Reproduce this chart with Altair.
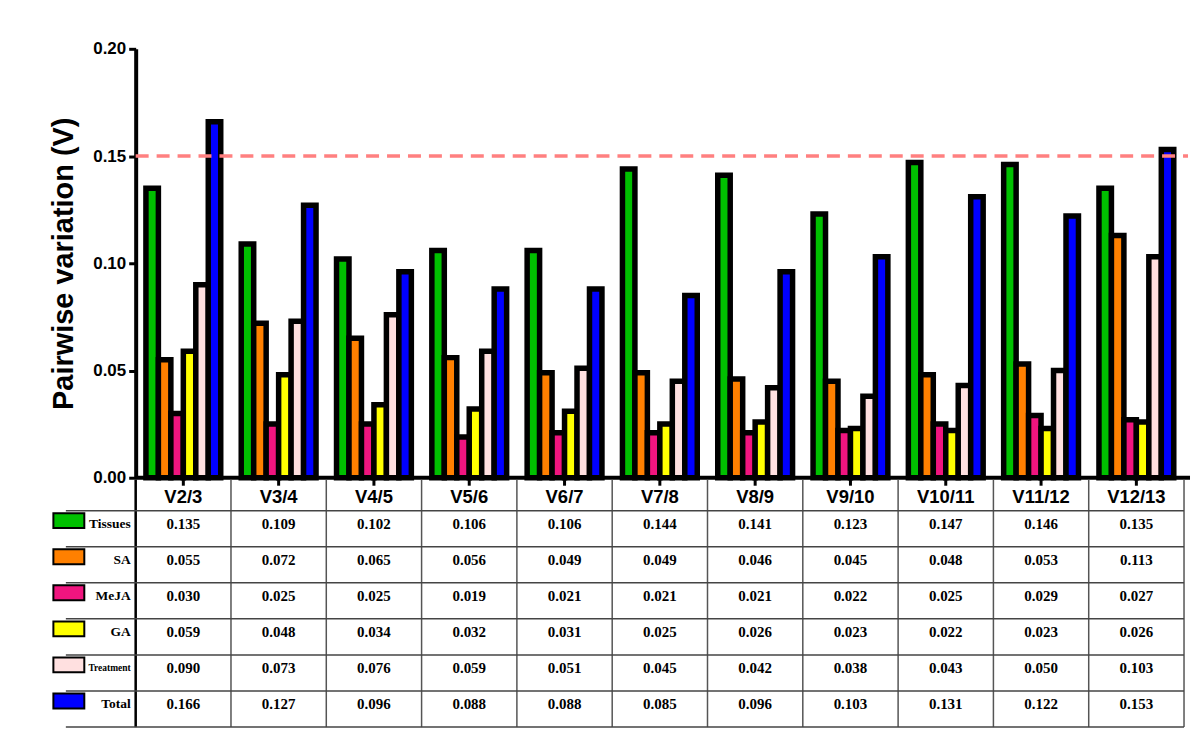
import altair as alt
import pandas as pd

categories = ["V2/3", "V3/4", "V4/5", "V5/6", "V6/7", "V7/8", "V8/9", "V9/10", "V10/11", "V11/12", "V12/13"]
series_names = ["Tissues", "SA", "MeJA", "GA", "Treatment", "Total"]
tissues = [0.135, 0.109, 0.102, 0.106, 0.106, 0.144, 0.141, 0.123, 0.147, 0.146, 0.135]
sa = [0.055, 0.072, 0.065, 0.056, 0.049, 0.049, 0.046, 0.045, 0.048, 0.053, 0.113]
meja = [0.030, 0.025, 0.025, 0.019, 0.021, 0.021, 0.021, 0.022, 0.025, 0.029, 0.027]
ga = [0.059, 0.048, 0.034, 0.032, 0.031, 0.025, 0.026, 0.023, 0.022, 0.023, 0.026]
treatment = [0.090, 0.073, 0.076, 0.059, 0.051, 0.045, 0.042, 0.038, 0.043, 0.050, 0.103]
total = [0.166, 0.127, 0.096, 0.088, 0.088, 0.085, 0.096, 0.103, 0.131, 0.122, 0.153]
series_colors = ["#00c000", "#ff8000", "#f0157f", "#ffff00", "#ffe0e0", "#0000ff"]
threshold = [0.15]
baseline = [0.0]
y_ticks = [0.0, 0.05, 0.10, 0.15, 0.20]

values = [tissues, sa, meja, ga, treatment, total]
rows = []
for s, vals in zip(series_names, values):
    for c, v in zip(categories, vals):
        rows.append({"cat": c, "series": s, "v": v})
df = pd.DataFrame(rows)
ser_df = pd.DataFrame({"series": series_names})
cat_df = pd.DataFrame({"cat": categories})

W, H, HH, HT = 1051, 430, 31, 217
YTITLE = "Pairwise variation (V)"
color_scale = alt.Scale(domain=series_names, range=series_colors)

# ---------------- bar panel ----------------
bars = alt.Chart(df).mark_bar(stroke="black", strokeWidth=5.5, strokeJoin="miter").encode(
    x=alt.X("cat:N", sort=categories, scale=alt.Scale(paddingInner=0.215, paddingOuter=0.1075), axis=None),
    xOffset=alt.XOffset("series:N", sort=series_names, scale=alt.Scale(paddingInner=0, paddingOuter=0)),
    y=alt.Y("v:Q", scale=alt.Scale(domain=[0, 0.2], nice=False),
            axis=alt.Axis(values=y_ticks, format=".2f", title=YTITLE, grid=False,
                          domainWidth=4, domainColor="black", tickWidth=3, tickSize=7, tickColor="black",
                          labelFont="Liberation Sans", labelFontWeight="bold", labelFontSize=17,
                          labelColor="black", labelPadding=3,
                          titleFont="Liberation Sans", titleFontWeight="bold", titleFontSize=29,
                          titleColor="black", titlePadding=14)),
    color=alt.Color("series:N", scale=color_scale, legend=None),
)
base_rule = alt.Chart(pd.DataFrame({"b": baseline})).mark_rule(color="black", strokeWidth=4).encode(
    y=alt.Y("b:Q", title=YTITLE), x=alt.value(0), x2=alt.value(W + 6)
)
dash_rule = alt.Chart(pd.DataFrame({"t": threshold})).mark_rule(
    color="#ff8080", strokeWidth=3.5, strokeDash=[13, 8]
).encode(y=alt.Y("t:Q", title=YTITLE), x=alt.value(0), x2=alt.value(W + 4))

top = alt.layer(bars, base_rule, dash_rule).properties(width=W, height=H)

# ---------------- table (header row drawn above the table origin) ----------------
def xt(band=None):
    kw = {}
    if band is not None:
        kw["bandPosition"] = band
    return alt.X("cat:N", sort=categories, scale=alt.Scale(paddingInner=0, paddingOuter=0), axis=None, **kw)

def yt(band=None):
    kw = {}
    if band is not None:
        kw["bandPosition"] = band
    return alt.Y("series:N", sort=series_names, scale=alt.Scale(paddingInner=0, paddingOuter=0), axis=None, **kw)

inner_v = alt.Chart(cat_df).mark_rule(color="#555555", strokeWidth=1.5).encode(
    x=xt(0), y=alt.value(-HH), y2=alt.value(HT))
right_v = alt.Chart(cat_df).transform_filter(alt.datum.cat == categories[-1]).mark_rule(
    color="#555555", strokeWidth=1.5).encode(x=xt(1), y=alt.value(-HH), y2=alt.value(HT))
left_v = alt.Chart(cat_df).transform_filter(alt.datum.cat == categories[0]).mark_rule(
    color="black", strokeWidth=2.5).encode(x=xt(0), y=alt.value(-HH), y2=alt.value(HT))

hdr_text = alt.Chart(cat_df).mark_text(
    font="Liberation Sans", fontWeight="bold", fontSize=18.5, baseline="middle", color="black", dy=2
).encode(x=xt(), y=alt.value(-HH / 2), text="cat:N")
hdr_ticks = alt.Chart(cat_df).mark_rule(color="black", strokeWidth=3).encode(
    x=xt(), y=alt.value(-HH), y2=alt.value(-HH + 6))
hdr_bottom = alt.Chart(pd.DataFrame({"k": [0]})).mark_rule(color="#444444", strokeWidth=1.5).encode(
    y=alt.value(0), x=alt.value(-70), x2=alt.value(W))

cell_text = alt.Chart(df).mark_text(
    font="Liberation Serif", fontWeight="bold", fontSize=15, baseline="middle", color="black", dy=-5
).encode(x=xt(), y=yt(), text=alt.Text("v:Q", format=".3f"))
hlines = alt.Chart(ser_df).mark_rule(color="#444444", strokeWidth=1.5).encode(
    y=yt(1), x=alt.value(-70), x2=alt.value(W))
labels = alt.Chart(ser_df).mark_text(
    font="Liberation Serif", fontWeight="bold", align="right", baseline="middle", color="black", dy=-5
).encode(
    y=yt(), x=alt.value(-5), text="series:N",
    size=alt.condition("datum.series == 'Treatment'", alt.value(9.5), alt.value(13.5)),
)
swatches = alt.Chart(ser_df).mark_point(
    shape="M-1,-1H1V-0.04H-1Z", size=961, filled=True, opacity=1, stroke="black", strokeWidth=2
).encode(y=yt(), x=alt.value(-67), color=alt.Color("series:N", scale=color_scale, legend=None))

table = alt.layer(inner_v, right_v, left_v, hdr_text, hdr_ticks, hdr_bottom,
                  hlines, cell_text, labels, swatches).properties(width=W, height=HT)

chart = alt.vconcat(top, table, spacing=-8).resolve_scale(
    x="independent", y="independent"
).properties(
    padding={"left": 41, "top": 31, "right": 0, "bottom": 0},
    background="white",
).configure_view(strokeWidth=0, stroke="transparent")

chart.save("out.html", embed_options={"renderer": "svg", "actions": False})
